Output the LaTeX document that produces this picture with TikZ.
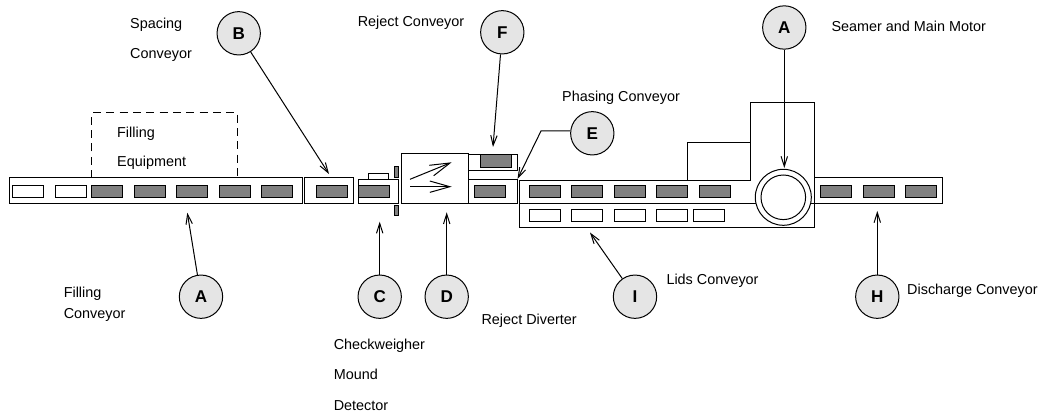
\documentclass[tikz,border=0pt]{standalone}
\usepackage{fontspec}
\setmainfont{Liberation Sans}
\usetikzlibrary{arrows.meta}
\tikzset{
  x=0.75pt,y=-0.75pt,
  every path/.style={line width=0.75pt},
  lbl/.style={anchor=base west,inner sep=0pt,font=\fontsize{10.8}{12}\selectfont},
  mark circle/.style={circle,draw,fill=black!10,minimum size=32.5pt,inner sep=0pt,font=\fontsize{12.8}{14}\bfseries\selectfont},
  full/.style={draw,fill=black!50},
  empty/.style={draw,fill=white},
  conv/.style={draw},
  lead/.style={-{Straight Barb[length=7.5pt,width=4.8pt]}},
  bigbarb/.style={-{Straight Barb[length=15pt,width=8.5pt]}},
}
\newcommand{\itemfull}[2]{\path[full] (#1,#2) rectangle ++(31,12.4);}
\newcommand{\itemempty}[2]{\path[empty] (#1,#2) rectangle ++(31,12.4);}
\begin{document}
\begin{tikzpicture}
\useasboundingbox (0,0) rectangle (1043,417);
% dashed filling equipment
\draw[dashed,dash pattern=on 6pt off 4pt] (91.7,178) -- (91.7,112.7) -- (237.7,112.7) -- (237.7,178);
% conveyors
\path[conv] (9,178) rectangle (302,203.7);
\path[conv] (304.3,178) rectangle (353.3,203.7);
\path[conv] (358.7,179.3) rectangle (398.3,203.7);
\path[conv] (368.7,173.3) rectangle (388.3,179.3);
\path[conv] (401.7,153.7) rectangle (468.3,203.7);
\path[conv] (468.3,155) rectangle (517.3,170.7);
\path[conv] (468.3,179.3) rectangle (517.3,203.7);
\path[conv] (814.7,178) rectangle (942.7,203.7);
% seamer outline
\draw (519.3,180.3) -- (750.3,180.3) -- (750.3,103) -- (814.7,103) -- (814.7,227.7) -- (519.3,227.7) -- cycle;
\draw (687,180.3) -- (687,142.7) -- (750.3,142.7);
\draw (519.3,203.7) -- (814.7,203.7);
\draw[fill=white] (783.3,197.3) circle[radius=28];
\draw (783.3,197.3) circle[radius=22.3];
% items
\foreach \x in {12.3,55} {\itemempty{\x}{185.3}}
\foreach \x in {91.3,134.3,176.3,219,261.7,316.3,358.7,474.3,529,571.3,614,656.3,699,820.3,863,905.7} {\itemfull{\x}{185.3}}
\path[full] (480.3,155) rectangle (511,167.3);
\foreach \x in {529,571.3,614,656.3,693} {\itemempty{\x}{209.5}}
% sensors
\path[full] (394.3,167) rectangle (398.3,177.3);
\path[full] (394.3,205.7) rectangle (398.3,216);
% diverter arrows
\coordinate (d1) at (410,179.3); \coordinate (d2) at (451.7,162.3);
\coordinate (d3) at (410,186.7); \coordinate (d4) at (451.7,186.7);
\draw[bigbarb] (d1) -- (d2);
\draw[bigbarb] (d3) -- (d4);
% circles
\node[mark circle] (B) at (238.7,33.3) {B};
\node[mark circle] (F) at (502.3,32.3) {F};
\node[mark circle] (A2) at (784.3,27.5) {A};
\node[mark circle] (E) at (592.3,133.3) {E};
\node[mark circle] (A1) at (201,296.7) {A};
\node[mark circle] (C) at (379.7,296.7) {C};
\node[mark circle] (D) at (446.7,296.7) {D};
\node[mark circle] (I) at (635,296.7) {I};
\node[mark circle] (H) at (877.3,296.7) {H};
% connector targets
\coordinate (tB) at (329,174);
\coordinate (tF) at (493,147);
\coordinate (tA2) at (784.3,168);
\coordinate (tE) at (517.5,179);
\coordinate (bE) at (541,131);
\coordinate (tA1) at (187.3,212.7);
\coordinate (tC) at (379.7,221.7);
\coordinate (tD) at (446.7,212.3);
\coordinate (tI) at (590,232.5);
\coordinate (tH) at (877.3,211);
\draw[lead] (B) -- (tB);
\draw[lead] (F) -- (tF);
\draw[lead] (A2) -- (tA2);
\draw[lead] (E.west |- bE) -- (bE) -- (tE);
\draw[lead] (A1) -- (tA1);
\draw[lead] (C) -- (tC);
\draw[lead] (D) -- (tD);
\draw[lead] (I) -- (tI);
\draw[lead] (H) -- (tH);
% labels
\node[lbl] (l1) at (129.7,28.3) {Spacing};
\node[lbl] (l2) at (129.7,58.7) {Conveyor};
\node[lbl] (l3) at (357.3,26.7) {Reject Conveyor};
\node[lbl] (l4) at (831,31.7) {Seamer and Main Motor};
\node[lbl] (l5) at (561.7,101.7) {Phasing Conveyor};
\node[lbl] (l6) at (116.7,137.3) {Filling};
\node[lbl] (l7) at (116.7,166.7) {Equipment};
\node[lbl] (l8) at (63.3,297.7) {Filling};
\node[lbl] (l9) at (63.3,318.7) {Conveyor};
\node[lbl] (l10) at (666,285) {Lids Conveyor};
\node[lbl] (l11) at (481,325) {Reject Diverter};
\node[lbl] (l12) at (333.3,349) {Checkweigher};
\node[lbl] (l13) at (333.3,379) {Mound};
\node[lbl] (l14) at (333.3,410) {Detector};
\node[lbl] (l15) at (906.7,295) {Discharge Conveyor};
\end{tikzpicture}
\end{document}
